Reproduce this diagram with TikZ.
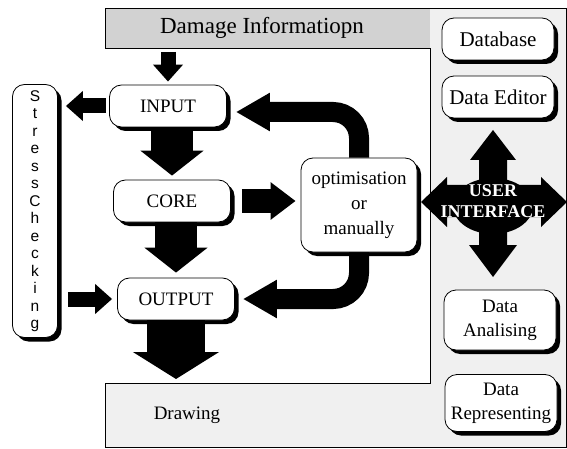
\documentclass[tikz,border=0pt]{standalone}
\usepackage{fontspec}
\setmainfont{Liberation Serif}
\newfontfamily\stressfont{Liberation Sans}
\usetikzlibrary{positioning, arrows.meta, shadows, calc}
\tikzset{
  box/.style={rectangle, rounded corners=12pt, draw=black, thick, fill=white, text centered, minimum width=117pt, minimum height=42pt, inner sep=2pt, font=\fontsize{19}{25}\selectfont, drop shadow={shadow xshift=4pt, shadow yshift=-4pt, fill=black, opacity=1}},
  sidebox/.style={box, minimum width=112pt, font=\fontsize{21}{24}\selectfont},
  smallarrow/.style={black, line width=15pt, -{Triangle[length=17pt, width=29pt]}},
  midarrow/.style={black, line width=24pt, -{Triangle[length=25pt, width=36pt]}},
  bendarrow/.style={black, line width=20pt, rounded corners=26pt, -{Triangle[length=34pt, width=36pt]}},
  bigarrow/.style={black, line width=42pt, -{Triangle[length=25pt, width=62pt]}},
  hugearrow/.style={black, line width=58pt, -{Triangle[length=27pt, width=85pt]}}
}
\begin{document}
\begin{tikzpicture}[x=1pt, y=-1pt]
  \useasboundingbox (0,0) rectangle (567,449);

  % gray frame round the working area
  \fill[gray!12] (105,8) rectangle (566,447);
  \fill[gray!35] (105,8) rectangle (430,48);
  \filldraw[fill=white, draw=black] (105,48) -- (430,48) -- (430,383) -- (105,383);
  \draw (105,48) -- (105,8) -- (566,8) -- (566,447) -- (105,447) -- (105,383);
  \coordinate (bandtop) at (105,48);
  \coordinate (bandbot) at (105,383);

  \node (damage) at (262,28) [font=\fontsize{23}{25}\selectfont] {Damage Informatiopn};
  \node (drawing) at (187,415) [font=\fontsize{19}{22}\selectfont] {Drawing};

  \node (input) [box] at (168,106) {INPUT};
  \node (core) [box] at (172,201) {CORE};
  \node (output) [box] at (176,299) {OUTPUT};
  \node (opt) [box, minimum width=116pt, minimum height=94pt, align=center] at (359,205) {optimisation\\or\\manually};
  \node (stress) [box, minimum width=45pt, minimum height=253pt, align=center, font=\stressfont\fontsize{15.5}{17.5}\selectfont] at (35,211) {S\\t\\r\\e\\s\\s\\C\\h\\e\\c\\k\\i\\n\\g};

  \node (db) [sidebox] at (498,39) {Database};
  \node (editor) [sidebox] at (498,97) {Data Editor};
  \node (analise) [sidebox, minimum height=60pt, align=center, font=\fontsize{19}{24}\selectfont] at (500,320) {Data\\Analising};
  \node (repr) [sidebox, minimum height=57pt, align=center, font=\fontsize{19}{24}\selectfont] at (501,403) {Data\\Representing};

  % user interface cross
  \begin{scope}[shift={(493,202)}]
    \fill[black] (0,-72) -- (23,-42) -- (14,-42) -- (14,-17) -- (48,-17) -- (48,-25) -- (74,0)
      -- (48,25) -- (48,15) -- (14,15) -- (14,43) -- (24,43) -- (0,75) -- (-24,43) -- (-14,43)
      -- (-14,15) -- (-46,15) -- (-46,25) -- (-72,0) -- (-46,-25) -- (-46,-17) -- (-14,-17)
      -- (-14,-42) -- (-23,-42) -- cycle;
    \fill[black] (0,4) ellipse [x radius=40, y radius=28];
  \end{scope}
  \node (ui) at (493,201) [text=white, align=center, font=\bfseries\fontsize{18}{21}\selectfont] {USER\\INTERFACE};

  % main flow
  \draw[smallarrow, shorten <=4pt, shorten >=3pt] (input.north |- bandtop) -- (input.north);
  \draw[smallarrow, shorten <=3pt, shorten >=8pt] (input.west) -- (input.west -| stress.east);
  \draw[bigarrow, shorten >=4pt] (core.north |- input.south) -- (core.north);
  \draw[midarrow, shorten <=11pt, shorten >=5pt] (core.east) -- (core.east -| opt.west);
  \draw[bigarrow, shorten >=5pt] (output.north |- core.south) -- (output.north);
  \draw[smallarrow, shorten <=10pt, shorten >=5pt] (stress.east |- output.west) -- (output.west);
  \draw[hugearrow, shorten >=4pt] (output.south) -- (output.south |- bandbot);

  % back from optimisation
  \draw[bendarrow, shorten >=9pt] (opt.north) |- ([yshift=-6pt]input.east);
  \draw[bendarrow, shorten >=8pt] (opt.south) |- (output.east);
\end{tikzpicture}
\end{document}
